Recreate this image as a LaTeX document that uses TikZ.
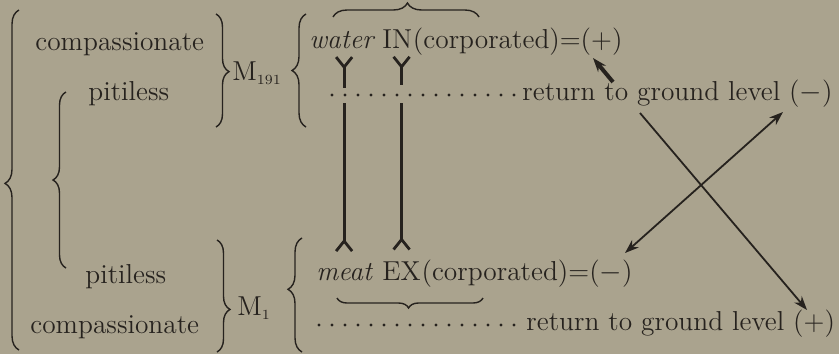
\documentclass[tikz,border=0pt]{standalone}
\usetikzlibrary{arrows.meta,decorations.pathreplacing}

\definecolor{paper}{RGB}{170,163,142}
\definecolor{ink}{RGB}{38,34,30}

\tikzset{
  txt/.style={anchor=base west, inner sep=0pt, text=ink,
    font=\fontsize{13.7}{16}\selectfont},
  brc/.style={decorate, draw=ink, line width=0.7pt,
    decoration={brace, amplitude=#1}},
  stem/.style={draw=ink, line width=1.4pt},
  forkin/.style={{Straight Barb[reversed,length=5pt,width=8pt]}-},
  forkout/.style={-{Straight Barb[reversed,length=5pt,width=8pt]}},
  dots/.style={draw=ink, line width=1.6pt, line cap=round,
    dash pattern=on 0pt off 6.5pt},
  arr/.style={draw=ink, line width=0.9pt, -{Stealth[length=7pt,width=5pt]}}
}

\begin{document}
\begin{tikzpicture}[x=0.5pt,y=-0.5pt]

   \fill[paper] (0,0) rectangle (839,354);
   \useasboundingbox (0,0) rectangle (839,354);

   % left column
   \node[txt] (comp1) at (35,50) {compassionate};
   \node[txt] (pit1) at (88,100) {pitiless};
   \node[txt] (pit2) at (85,283) {pitiless};
   \node[txt] (comp2) at (30,333) {compassionate};
   \node[txt] (mtop) at (232,80) {M$_{\scriptscriptstyle 191}$};
   \node[txt] (mbot) at (237,315) {M$_{\scriptscriptstyle 1}$};

   % right column
   \node[txt] (water) at (309,48) {\itshape water};
   \node[txt] (in) at (382,48) {IN};
   \node[txt] (incorp) at (in.base east) {(corporated)=(+)};
   \node[txt] (rettop) at (522,100) {return to ground level ($-$)};
   \node[txt] (meat) at (316,280) {\itshape meat};
   \node[txt] (ex) at (382,280) {EX};
   \node[txt] (excorp) at (ex.base east) {(corporated)=($-$)};
   \node[txt] (retbot) at (526,330) {return to ground level (+)};

   \coordinate (dt) at (332,95);
   \coordinate (db) at (319,325);

   % braces
   \draw[brc=7pt,decoration={aspect=0.49}] (19,350) -- (19,10);
   \draw[brc=6.5pt] (66,268) -- (66,92);
   \draw[brc=6.5pt,decoration={aspect=0.51}] (216,14) -- (216,127);
   \draw[brc=6.5pt,decoration={aspect=0.62}] (217,240) -- (217,352);
   \draw[brc=7pt] (306,127) -- (306,14);
   \draw[brc=7pt,decoration={aspect=0.55}] (302,352) -- (302,238);
   \draw[brc=7pt,decoration={aspect=0.51}] (333,17) -- (479,17);
   \draw[brc=5pt,decoration={aspect=0.51}] (483,298) -- (337,298);

   % dotted lines
   \draw[dots] (dt) -- ([xshift=-1.5pt]rettop.west |- dt);
   \draw[dots] (db) -- ([xshift=-1.5pt]retbot.west |- db);

   % forks
   \draw[stem,forkin,shorten >=3.5pt] ([yshift=-3.5pt]meat.north |- water.south) -- (meat.north |- dt);
   \draw[stem,forkout,shorten <=4pt] (meat.north |- dt) -- ([yshift=5pt]meat.north);
   \draw[stem,forkin,shorten >=5pt] ([yshift=-3.5pt]ex.north |- in.south) -- (ex.north |- dt);
   \draw[stem,forkout,shorten <=4pt] (ex.north |- dt) -- ([yshift=5pt]ex.north);

   % arrows
   \coordinate (a1) at (613,82);
   \coordinate (a2) at (593,58);
   \coordinate (b1) at (640,113);
   \coordinate (b2) at (807,310);
   \coordinate (c1) at (783,112);
   \coordinate (c2) at (625,253);
   \draw[arr,line width=2pt] (a1) -- (a2);
   \draw[arr] (b1) -- (b2);
   \draw[arr,{Stealth[length=7pt,width=5pt]}-{Stealth[length=7pt,width=5pt]}] (c1) -- (c2);

\end{tikzpicture}
\end{document}
